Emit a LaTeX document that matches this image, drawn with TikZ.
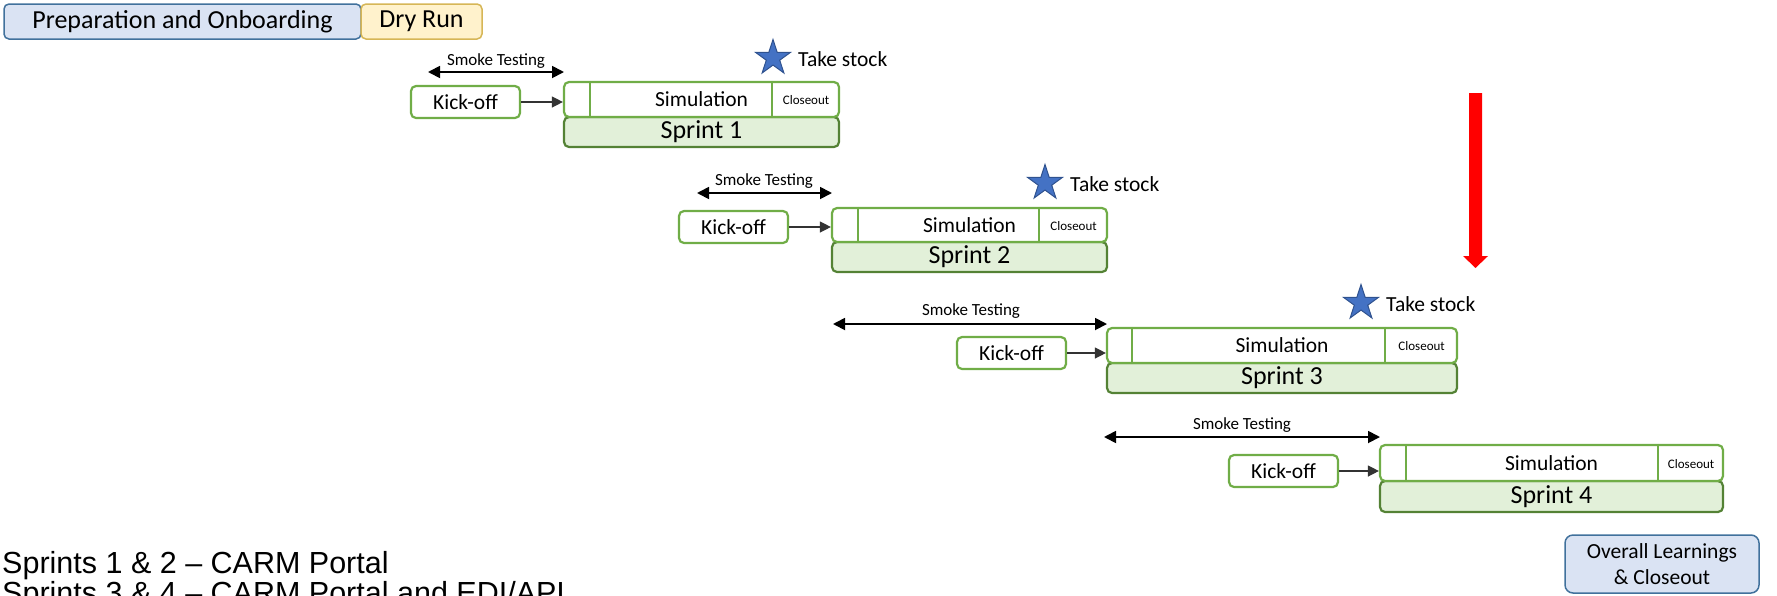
\documentclass[tikz,border=0pt]{standalone}
\usepackage{fontspec}
\setmainfont{Carlito}
\newfontfamily\arialf{Liberation Sans}
\usetikzlibrary{arrows.meta,shapes.geometric,calc}
\definecolor{gborder}{HTML}{70AD47}
\definecolor{gdark}{HTML}{548235}
\definecolor{gfill}{HTML}{E2F0D9}
\definecolor{bfill}{HTML}{DAE3F3}
\definecolor{bborder}{HTML}{41719C}
\definecolor{yfill}{HTML}{FFF2CC}
\definecolor{yborder}{HTML}{D6B656}
\definecolor{starfill}{HTML}{4472C4}
\definecolor{starline}{HTML}{2F528F}
\begin{document}
\begin{tikzpicture}[x=1pt,y=-1pt,
  phase/.style={draw, line width=1.5pt, rounded corners=5pt, inner sep=0, minimum height=35pt, font=\fontsize{26}{31}\selectfont},
  kick/.style={draw=gborder, line width=2.2pt, rounded corners=5pt, fill=white, minimum width=109pt, minimum height=32pt, inner sep=0, font=\fontsize{21.5}{26}\selectfont},
  upper/.style={draw=gborder, line width=2.2pt, rounded corners=5pt, fill=white, inner sep=0, font=\fontsize{21.5}{26}\selectfont},
  lower/.style={draw=gdark, line width=2.2pt, rounded corners=5pt, fill=gfill, inner sep=0, font=\fontsize{26}{31}\selectfont},
  closeout/.style={inner sep=0, font=\fontsize{13}{16}\selectfont},
  divider/.style={draw=gborder, line width=2.2pt},
  smoke/.style={{Triangle[length=12pt,width=12pt]}-{Triangle[length=12pt,width=12pt]}, line width=1.8pt},
  smokelabel/.style={inner sep=0, font=\fontsize{17}{20}\selectfont},
  kickarrow/.style={-{Triangle[length=11pt,width=11pt]}, draw=black!80, line width=1.3pt},
  starnode/.style={star, star points=5, star point ratio=2.618, minimum size=37pt, inner sep=0, fill=starfill, draw=starline, line width=1pt},
  takestock/.style={anchor=west, inner sep=0, font=\fontsize{21.5}{26}\selectfont},
  overall/.style={draw=bborder, fill=bfill, line width=1.5pt, rounded corners=8pt, inner sep=0, align=center, font=\fontsize{21.5}{26}\selectfont},
  notes/.style={anchor=base west, inner sep=0, font=\arialf\fontsize{30.5}{30}\selectfont}
]
\useasboundingbox (0,0) rectangle (1777,595);

% phases
\node[phase, fill=bfill, draw=bborder, minimum width=357pt] (prep) at (182.5,21.5) {Preparation and Onboarding};
\node[phase, fill=yfill, draw=yborder, minimum width=121pt] (dry) at (421.5,21.5) {Dry Run};

% ---------- Sprint 1 ----------
\coordinate (s1a) at (428,72);
\coordinate (s1b) at (564,72);
\draw[smoke] (s1a) -- (s1b);
\node[smokelabel] (sl1) at (496,61) {Smoke Testing};
\node[kick] (k1) at (465.5,102) {Kick-off};
\node[lower, minimum width=275pt, minimum height=30pt] (l1) at (701.5,132) {Sprint 1};
\node[upper, minimum width=275pt, minimum height=35pt] (u1) at (701.5,99.5) {Simulation};
\draw[divider] ($(u1.north west)+(27,0)$) -- ($(u1.south west)+(27,0)$);
\draw[divider] ($(u1.north east)+(-68,0)$) -- ($(u1.south east)+(-68,0)$);
\node[closeout] (c1) at ($(u1.east)+(-34,1)$) {Closeout};
\draw[kickarrow] (k1.east) -- (k1.east -| u1.west);
\node[starnode] (st1) at (773,58) {};
\node[takestock] (ts1) at ($(st1)+(25,1)$) {Take stock};

% ---------- Sprint 2 ----------
\coordinate (s2a) at (697,193);
\coordinate (s2b) at (832,193);
\draw[smoke] (s2a) -- (s2b);
\node[smokelabel] (sl2) at (764,181) {Smoke Testing};
\node[kick] (k2) at (733.5,227) {Kick-off};
\node[lower, minimum width=275pt, minimum height=30pt] (l2) at (969.5,257) {Sprint 2};
\node[upper, minimum width=275pt, minimum height=34pt] (u2) at (969.5,225) {Simulation};
\draw[divider] ($(u2.north west)+(27,0)$) -- ($(u2.south west)+(27,0)$);
\draw[divider] ($(u2.north east)+(-69,0)$) -- ($(u2.south east)+(-69,0)$);
\node[closeout] (c2) at ($(u2.east)+(-34.5,1)$) {Closeout};
\draw[kickarrow] (k2.east) -- (k2.east -| u2.west);
\node[starnode] (st2) at (1045,183) {};
\node[takestock] (ts2) at ($(st2)+(25,1)$) {Take stock};

% ---------- Sprint 3 ----------
\coordinate (s3a) at (833,324);
\coordinate (s3b) at (1107,324);
\draw[smoke] (s3a) -- (s3b);
\node[smokelabel] (sl3) at (971,311) {Smoke Testing};
\node[kick] (k3) at (1011.5,353) {Kick-off};
\node[lower, minimum width=350pt, minimum height=30pt] (l3) at (1282,378) {Sprint 3};
\node[upper, minimum width=350pt, minimum height=35pt] (u3) at (1282,345.5) {Simulation};
\draw[divider] ($(u3.north west)+(26,0)$) -- ($(u3.south west)+(26,0)$);
\draw[divider] ($(u3.north east)+(-73,0)$) -- ($(u3.south east)+(-73,0)$);
\node[closeout] (c3) at ($(u3.east)+(-36.5,1)$) {Closeout};
\draw[kickarrow] (k3.east) -- (k3.east -| u3.west);
\node[starnode] (st3) at (1361,303) {};
\node[takestock] (ts3) at ($(st3)+(25,1)$) {Take stock};

% ---------- Sprint 4 ----------
\coordinate (s4a) at (1104,437);
\coordinate (s4b) at (1380,437);
\draw[smoke] (s4a) -- (s4b);
\node[smokelabel] (sl4) at (1242,425) {Smoke Testing};
\node[kick] (k4) at (1283.5,471) {Kick-off};
\node[lower, minimum width=343pt, minimum height=31pt] (l4) at (1551.5,496.5) {Sprint 4};
\node[upper, minimum width=343pt, minimum height=36pt] (u4) at (1551.5,463) {Simulation};
\draw[divider] ($(u4.north west)+(27,0)$) -- ($(u4.south west)+(27,0)$);
\draw[divider] ($(u4.north east)+(-66,0)$) -- ($(u4.south east)+(-66,0)$);
\node[closeout] (c4) at ($(u4.east)+(-33,1)$) {Closeout};
\draw[kickarrow] (k4.east) -- (k4.east -| u4.west);

% red block arrow
\fill[red] (1469,93) -- (1482,93) -- (1482,256) -- (1488,256) -- (1475.5,268) -- (1463,256) -- (1469,256) -- cycle;

% overall
\node[overall, minimum width=194pt, minimum height=58pt] (ov) at (1662,564) {Overall Learnings\\\& Closeout};

% notes
\node[notes] (n1) at (2,573) {Sprints 1 \& 2 – CARM Portal};
\node[notes] (n2) at (2,603) {Sprints 3 \& 4 – CARM Portal and EDI/API};
\end{tikzpicture}
\end{document}
